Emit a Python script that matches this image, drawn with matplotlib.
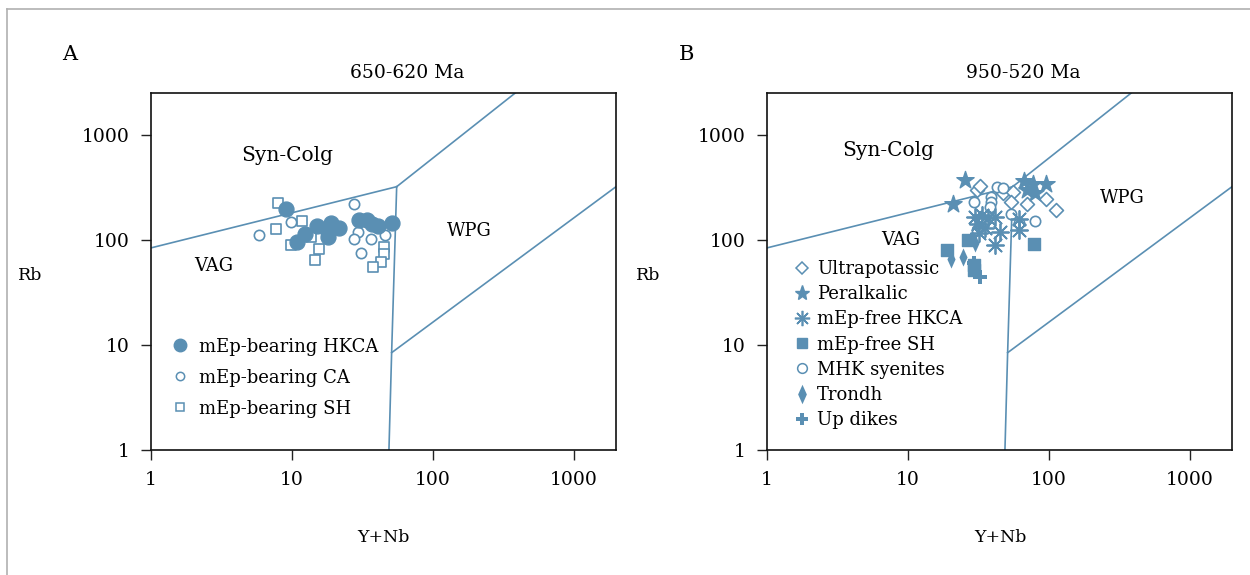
import matplotlib
matplotlib.use("Agg")
import matplotlib.pyplot as plt
from matplotlib.lines import Line2D
import numpy as np

plt.rcParams['font.family'] = ['DejaVu Serif']

C = '#5a8fb3'

# ---- discrimination boundaries (Y+Nb, Rb) ----
bnd_vag_x = [1, 55.6]
bnd_vag_y = [84, 322]
bnd_wpg_x = [55.6, 388]
bnd_wpg_y = [322, 2530]
bnd_vert_x = [55.6, 51.2, 49]
bnd_vert_y = [322, 8.45, 1]
bnd_org_x = [51.2, 2000]
bnd_org_y = [8.45, 322]

# ---- Panel A data ----
a_hkca_x = [9.11, 10.96, 12.49, 15.04, 18.91, 18.18, 18.18, 21.65, 30.16, 34.03, 37.29, 41.14, 51.2]
a_hkca_y = [196.1, 95.1, 113.3, 136.8, 146.1, 120.0, 106.1, 129.2, 155.1, 155.1, 142.9, 136.8, 146.1]
a_ca_x = [5.89, 9.84, 27.66, 29.67, 27.66, 36.51, 46.1, 31.17]
a_ca_y = [111.6, 149.4, 220.3, 120.0, 102.2, 102.2, 112.3, 75.7]
a_sh_x = [8.04, 7.74, 11.83, 9.84, 13.71, 15.69, 14.70, 45.1, 45.1, 43.0, 37.5]
a_sh_y = [226.6, 126.5, 150.7, 89.0, 106.1, 82.1, 64.5, 85.8, 73.1, 62.1, 55.7]

# ---- Panel B data ----
b_ultra_x = [30.86, 32.56, 47.6, 56.1, 53.8, 70.7, 95.2, 112.3]
b_ultra_y = [299.4, 329.0, 278.4, 286.5, 228.6, 221.7, 247.4, 194.4]
b_peral_x = [25.49, 20.85, 66.8, 77.8, 95.2, 69.8, 79.9]
b_peral_y = [372.8, 218.8, 367.1, 341.6, 341.6, 301.3, 280.3]
b_hkca_x = [30.0, 33.9, 37.3, 41.6, 31.3, 35.3, 32.3, 45.1, 61.9, 61.9, 41.8]
b_hkca_y = [165.6, 173.0, 163.8, 166.7, 141.4, 129.2, 117.9, 120.0, 158.5, 124.5, 89.6]
b_sh_x = [26.9, 18.9, 79.1, 29.4, 29.4]
b_sh_y = [100, 80.3, 91.2, 57.2, 51.8]
b_mhk_x = [42.8, 47.6, 29.5, 39.1, 38.8, 38.3, 54.0, 61.9, 79.9, 30.86]
b_mhk_y = [321.8, 314.9, 230.1, 258.4, 231.6, 207.6, 177.6, 146.8, 151.7, 124.5]
b_trondh_x = [20.2, 24.5, 30.0]
b_trondh_y = [65.9, 69.3, 93.6]
b_dikes_x = [29.4, 32.6]
b_dikes_y = [60.0, 44.7]

titles = ['650-620 Ma', '950-520 Ma']
panel_labels = ['A', 'B']
xticks = [1, 10, 100, 1000]
yticks = [1, 10, 100, 1000]

W, H = 1250, 575
fig = plt.figure(figsize=(12.5, 5.75), dpi=100)

thin_diamond = [(0, 1), (0.45, 0), (0, -1), (-0.45, 0), (0, 1)]
asterisk = (8, 2, 0)

def setup(ax):
    ax.set_xscale('log')
    ax.set_yscale('log')
    ax.set_xlim(1, 2000)
    ax.set_ylim(1, 2530)
    ax.set_xticks(xticks)
    ax.set_xticklabels([str(t) for t in xticks])
    ax.set_yticks(yticks)
    ax.set_yticklabels([str(t) for t in yticks])
    ax.minorticks_off()
    ax.tick_params(direction='out', length=7, width=1.0, labelsize=13.5, pad=8, color='#222222')
    for s in ax.spines.values():
        s.set_linewidth(1.2)
        s.set_color('#111111')
    lw = 1.2
    ax.plot(bnd_vag_x, bnd_vag_y, color=C, lw=lw)
    ax.plot(bnd_wpg_x, bnd_wpg_y, color=C, lw=lw)
    ax.plot(bnd_vert_x, bnd_vert_y, color=C, lw=lw)
    ax.plot(bnd_org_x, bnd_org_y, color=C, lw=lw)

axA = fig.add_axes([150.7/W, (H-450)/H, 465.3/W, (450-92.7)/H])
axB = fig.add_axes([766.7/W, (H-450)/H, 465.3/W, (450-92.7)/H])
setup(axA)
setup(axB)

# Panel A
axA.scatter(a_sh_x, a_sh_y, marker='s', s=55, facecolors='white', edgecolors=C, linewidths=1.2, zorder=3)
axA.scatter(a_ca_x, a_ca_y, marker='o', s=55, facecolors='white', edgecolors=C, linewidths=1.2, zorder=3)
axA.scatter(a_hkca_x, a_hkca_y, marker='o', s=115, color=C, zorder=4)
hA = [
    Line2D([], [], ls='none', marker='o', ms=9, color=C),
    Line2D([], [], ls='none', marker='o', ms=6, mfc='white', mec=C, mew=1.1),
    Line2D([], [], ls='none', marker='s', ms=6, mfc='white', mec=C, mew=1.1),
]
axA.legend(hA, ['mEp-bearing HKCA', 'mEp-bearing CA', 'mEp-bearing SH'],
           loc='lower left', bbox_to_anchor=(0.025, 0.07), frameon=False,
           fontsize=13, labelspacing=0.72, handletextpad=0.45, handlelength=1.2, borderaxespad=0)
axA.text(9.26, 645, 'Syn-Colg', ha='center', va='center', fontsize=14.5)
axA.text(2.81, 56.6, 'VAG', ha='center', va='center', fontsize=13)
axA.text(180.9, 121.8, 'WPG', ha='center', va='center', fontsize=13)

# Panel B
axB.scatter(b_ultra_x, b_ultra_y, marker='D', s=50, facecolors='white', edgecolors=C, linewidths=1.2, zorder=3)
axB.scatter(b_mhk_x, b_mhk_y, marker='o', s=55, facecolors='white', edgecolors=C, linewidths=1.2, zorder=3)
axB.scatter(b_hkca_x, b_hkca_y, marker=asterisk, s=150, color=C, linewidths=1.3, zorder=4)
axB.scatter(b_peral_x, b_peral_y, marker='*', s=170, color=C, zorder=4)
axB.scatter(b_sh_x, b_sh_y, marker='s', s=75, color=C, zorder=4)
axB.scatter(b_trondh_x, b_trondh_y, marker=thin_diamond, s=170, color=C, zorder=4, linewidths=0)
axB.scatter(b_dikes_x, b_dikes_y, marker='P', s=110, color=C, zorder=4, linewidths=0)
hB = [
    Line2D([], [], ls='none', marker='D', ms=6, mfc='white', mec=C, mew=1.1),
    Line2D([], [], ls='none', marker='*', ms=11, color=C),
    Line2D([], [], ls='none', marker=asterisk, ms=11, color=C, mew=1.2),
    Line2D([], [], ls='none', marker='s', ms=7, color=C),
    Line2D([], [], ls='none', marker='o', ms=7, mfc='white', mec=C, mew=1.1),
    Line2D([], [], ls='none', marker=thin_diamond, ms=14, color=C, mew=0),
    Line2D([], [], ls='none', marker='P', ms=9, color=C, mew=0),
]
axB.legend(hB, ['Ultrapotassic', 'Peralkalic', 'mEp-free HKCA', 'mEp-free SH',
                'MHK syenites', 'Trondh', 'Up dikes'],
           loc='lower left', bbox_to_anchor=(0.04, 0.038), frameon=False,
           fontsize=13, labelspacing=0.4, handletextpad=0.35, handlelength=1.0, borderaxespad=0)
axB.text(7.25, 720, 'Syn-Colg', ha='center', va='center', fontsize=14.5)
axB.text(8.96, 100, 'VAG', ha='center', va='center', fontsize=13)
axB.text(331, 251, 'WPG', ha='center', va='center', fontsize=13)

# figure texts
for cx, title, lab, lx, rbx, xlx in [(407, titles[0], panel_labels[0], 70, 30, 383),
                                     (1023, titles[1], panel_labels[1], 686, 648, 1000)]:
    fig.text(cx/W, 1-73/H, title, ha='center', va='center', fontsize=13.5)
    fig.text(lx/W, 1-55/H, lab, ha='center', va='center', fontsize=15)
    fig.text(rbx/W, 1-275/H, 'Rb', ha='center', va='center', fontsize=12.5)
    fig.text(xlx/W, 1-537/H, 'Y+Nb', ha='center', va='center', fontsize=12.5)

# outer frame
fig.add_artist(Line2D([7/W, 7/W], [0, 1-9/H], transform=fig.transFigure, color='#b0b0b0', lw=1.2))
fig.add_artist(Line2D([7/W, 1], [1-9/H, 1-9/H], transform=fig.transFigure, color='#b0b0b0', lw=1.2))

fig.savefig('out.png', dpi=100)
